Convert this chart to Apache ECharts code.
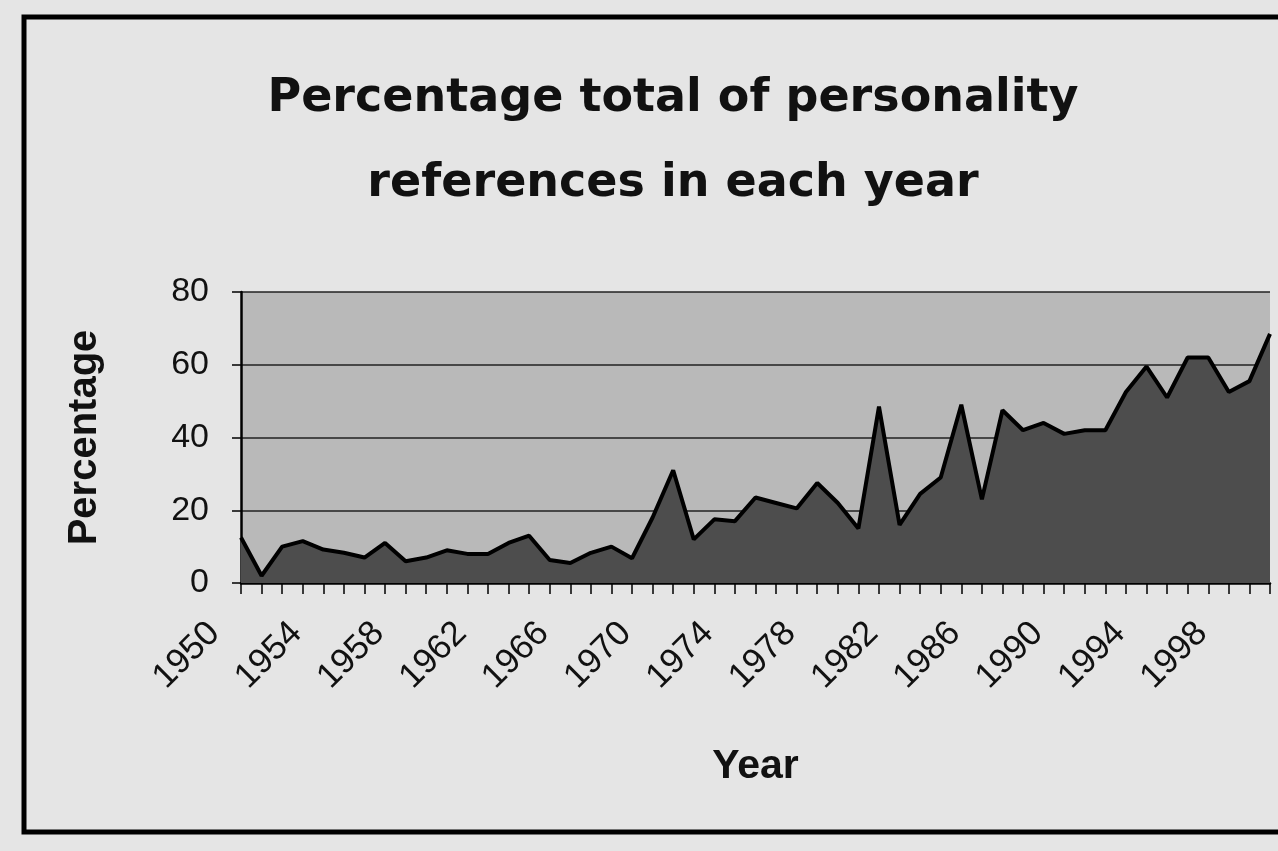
<!DOCTYPE html>
<html>
<head>
<meta charset="utf-8">
<script src="https://cdn.jsdelivr.net/npm/echarts@6/dist/echarts.min.js"></script>
<style>
html,body{margin:0;padding:0;background:#e5e5e5;}
#chart{width:1278px;height:851px;}
</style>
</head>
<body>
<div id="chart"></div>
<script>
const years = ["1950","1951","1952","1953","1954","1955","1956","1957","1958","1959",
  "1960","1961","1962","1963","1964","1965","1966","1967","1968","1969",
  "1970","1971","1972","1973","1974","1975","1976","1977","1978","1979",
  "1980","1981","1982","1983","1984","1985","1986","1987","1988","1989",
  "1990","1991","1992","1993","1994","1995","1996","1997","1998","1999","2000"];
const percentages = [12.5, 2, 10, 11.5, 9.2, 8.3, 7, 11, 6, 7,
  9, 8, 8, 11, 13, 6.3, 5.5, 8.3, 10, 6.8,
  18, 31, 12, 17.5, 17, 23.5, 22, 20.5, 27.5, 22,
  15, 48.5, 16, 24.5, 29, 49, 23, 47.5, 42, 44,
  41, 42, 42, 52.5, 59.5, 51, 62, 62, 52.5, 55.5, 68.5];
const titleText = "Percentage total of personality\nreferences in each year";
const xTitle = "Year";
const yTitle = "Percentage";

const chart = echarts.init(document.getElementById('chart'), null, {renderer:'canvas'});
chart.setOption({
  backgroundColor: '#e5e5e5',
  animation: false,
  title: {
    text: titleText,
    left: 668,
    top: 52,
    textAlign: 'center',
    textStyle: {
      fontFamily: 'DejaVu Sans',
      fontWeight: 'bold',
      fontSize: 46,
      lineHeight: 85,
      color: '#111'
    }
  },
  graphic: [{
    type: 'rect',
    shape: {x: 24, y: 17, width: 1300, height: 815},
    style: {fill: 'none', stroke: '#000', lineWidth: 5},
    z: 100
  }],
  grid: {
    left: 241, right: 8, top: 292, bottom: 268,
    show: true,
    backgroundColor: '#b9b9b9',
    borderWidth: 0
  },
  xAxis: {
    type: 'category',
    data: years,
    boundaryGap: false,
    name: xTitle,
    nameLocation: 'middle',
    nameGap: 163,
    nameTextStyle: {fontFamily: 'Liberation Sans', fontWeight: 'bold', fontSize: 41, color: '#111'},
    axisLine: {lineStyle: {color: '#000', width: 2.5}},
    axisTick: {show: true, interval: 0, length: 11, lineStyle: {color: '#000', width: 1.5}},
    axisLabel: {
      interval: 3, rotate: 45, fontFamily: 'Liberation Sans', fontSize: 35,
      color: '#111', margin: 18, padding: [0, 38, 0, 0]
    },
    splitLine: {show: false}
  },
  yAxis: {
    type: 'value',
    min: 0, max: 80, interval: 20,
    name: yTitle,
    nameLocation: 'middle',
    nameGap: 136,
    nameTextStyle: {fontFamily: 'Liberation Sans', fontWeight: 'bold', fontSize: 40, color: '#111'},
    axisLine: {show: true, lineStyle: {color: '#000', width: 2.5}},
    axisTick: {show: true, length: 9, lineStyle: {color: '#000', width: 1.5}},
    axisLabel: {fontFamily: 'Liberation Sans', fontSize: 34, color: '#111', margin: 32},
    splitLine: {show: true, lineStyle: {color: '#222', width: 1.5}}
  },
  series: [{
    type: 'line',
    data: percentages,
    symbol: 'none',
    lineStyle: {color: '#000', width: 4},
    areaStyle: {color: '#4d4d4d', opacity: 1}
  }]
});
</script>
</body>
</html>
